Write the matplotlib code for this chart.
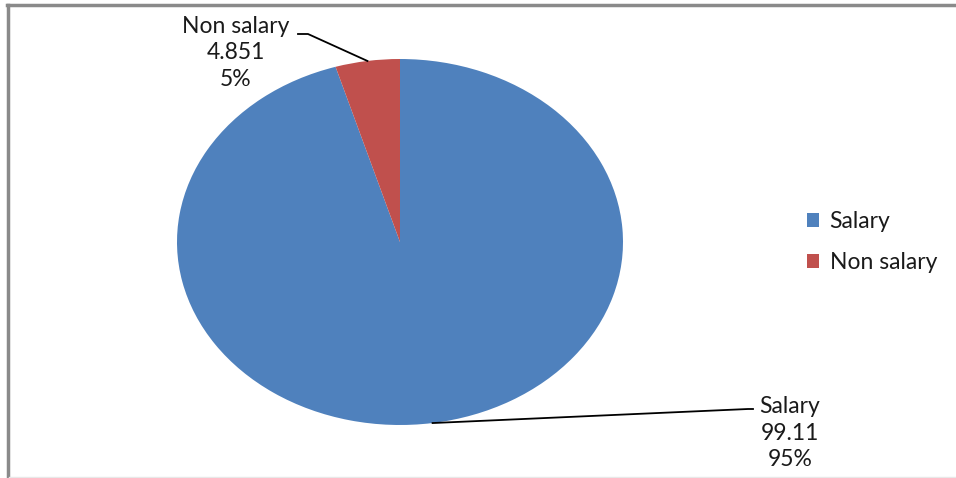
import matplotlib
matplotlib.use("Agg")
import matplotlib.pyplot as plt
from matplotlib.lines import Line2D
import numpy as np

categories = ["Salary", "Non salary"]
values = [99.11, 4.851]
value_labels = ["99.11", "4.851"]
colors = ["#4F81BD", "#C0504D"]

plt.rcParams['font.family'] = ['Lato', 'DejaVu Sans']

W, H = 956, 478
fig = plt.figure(figsize=(W / 100, H / 100), dpi=100)
fig.patch.set_facecolor("white")

# pie ellipse: center (400,242), rx 223, ry 183 (pixels)
cx, cy, rx, ry = 400, 242, 223, 183
ax = fig.add_axes([(cx - rx) / W, (H - (cy + ry)) / H, 2 * rx / W, 2 * ry / H])
wedges, _ = ax.pie(values, colors=colors, startangle=90, counterclock=False,
                   wedgeprops=dict(linewidth=0))
ax.set_aspect('auto')
ax.set_xlim(-1, 1)
ax.set_ylim(-1, 1)
ax.axis('off')

def px2data(px, py):
    return ((px - cx) / rx, (cy - py) / ry)

total = sum(values)
fs = 16.5
# text anchor positions (pixels) and leader elbows
text_pos = {"Salary": (790, 433), "Non salary": (236, 53)}
elbow = {"Salary": [(753, 409), (748, 409)], "Non salary": [(298, 34), (308, 34)]}

for w, name, v, vl in zip(wedges, categories, values, value_labels):
    mid = np.deg2rad((w.theta1 + w.theta2) / 2)
    ex, ey = np.cos(mid), np.sin(mid)
    pct = int(round(100 * v / total))
    tx, ty = px2data(*text_pos[name])
    ax.text(tx, ty, f"{name}\n{vl}\n{pct}%", ha="center", va="center",
            fontsize=fs, color="#1a1a1a", linespacing=1.33, clip_on=False)
    pts = [px2data(*p) for p in elbow[name]] + [(ex, ey)]
    xs, ys = zip(*pts)
    ax.add_line(Line2D(xs, ys, color="black", lw=1.3, clip_on=False))

leg = fig.legend(wedges, categories, loc="center left",
                 bbox_to_anchor=(786 / W, 1 - 242 / H), frameon=False,
                 fontsize=fs, handlelength=0.55, handleheight=0.55,
                 handletextpad=0.45, labelspacing=0.85)
for t in leg.get_texts():
    t.set_color("#1a1a1a")

# outer frame
fig.add_artist(Line2D([7 / W, 1], [1 - 4.5 / H, 1 - 4.5 / H], transform=fig.transFigure,
                      color="#8a8a8a", lw=2.5))
fig.add_artist(Line2D([7.5 / W, 7.5 / W], [0, 1 - 4.5 / H], transform=fig.transFigure,
                      color="#8a8a8a", lw=2.5))
fig.add_artist(Line2D([9 / W, 1], [1 - 477 / H, 1 - 477 / H], transform=fig.transFigure,
                      color="#e8e8e8", lw=1))

fig.savefig("out.png", dpi=100, facecolor="white")
